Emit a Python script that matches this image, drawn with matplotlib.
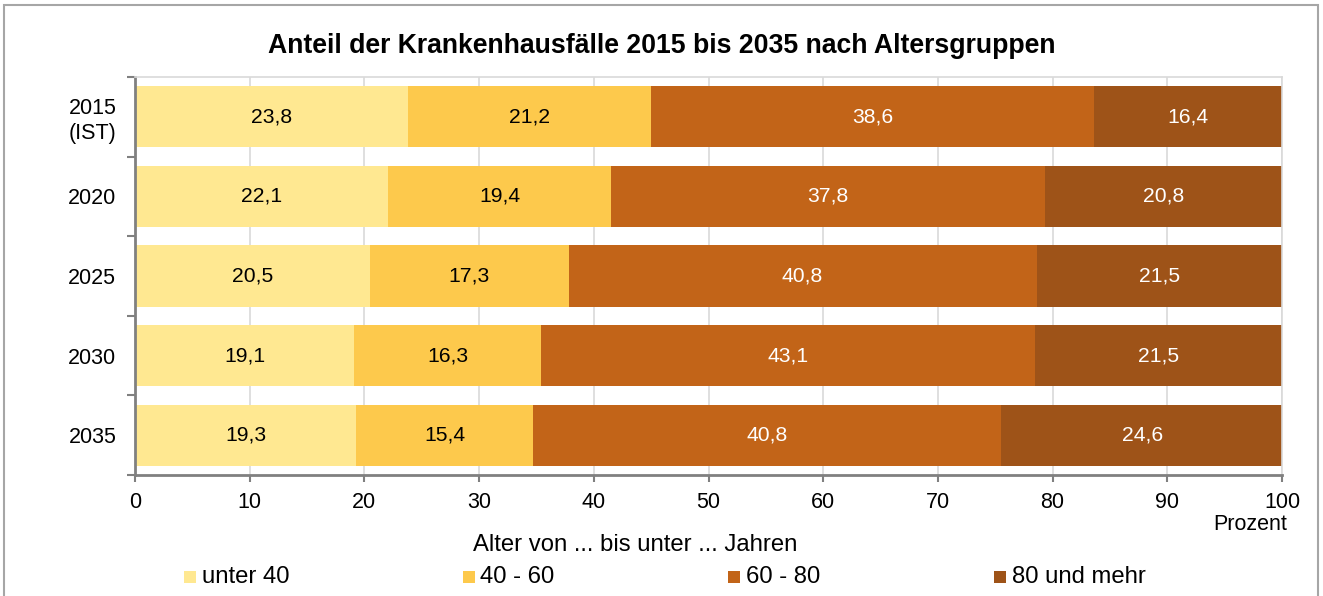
import matplotlib
matplotlib.use("Agg")
import matplotlib.pyplot as plt
from matplotlib.patches import Rectangle
import numpy as np

plt.rcParams['font.family'] = ['Liberation Sans', 'DejaVu Sans']

categories = ["2015\n(IST)", "2020", "2025", "2030", "2035"]
series_names = ["unter 40", "40 - 60", "60 - 80", "80 und mehr"]
unter40 = [23.8, 22.1, 20.5, 19.1, 19.3]
a40_60 = [21.2, 19.4, 17.3, 16.3, 15.4]
a60_80 = [38.6, 37.8, 40.8, 43.1, 40.8]
a80plus = [16.4, 20.8, 21.5, 21.5, 24.6]
xticks = [0, 10, 20, 30, 40, 50, 60, 70, 80, 90, 100]

series = [unter40, a40_60, a60_80, a80plus]
colors = ["#FFE891", "#FDC94C", "#C26418", "#9E5318"]
label_colors = ["black", "black", "white", "white"]

W, H = 1323, 596
fig = plt.figure(figsize=(W / 100, H / 100), dpi=100)

# outer frame
fig.patches.append(Rectangle((4 / W, -0.05), (1318 - 4) / W, 1 - 5 / H + 0.05,
                             transform=fig.transFigure, fill=False,
                             edgecolor="#A6A6A6", linewidth=1.5))

ax_left, ax_right = 135 / W, 1282 / W
ax_top, ax_bottom = 1 - 77 / H, 1 - 475 / H
ax = fig.add_axes([ax_left, ax_bottom, ax_right - ax_left, ax_top - ax_bottom])

y = np.arange(len(categories))
left = np.zeros(len(categories))
for vals, col, lc in zip(series, colors, label_colors):
    vals = np.array(vals)
    ax.barh(y, vals, left=left, height=0.77, color=col, edgecolor="none", zorder=2)
    for yi, l, v in zip(y, left, vals):
        ax.text(l + v / 2, yi, f"{v:.1f}".replace(".", ","), ha="center", va="center",
                color=lc, fontsize=15.2, zorder=3)
    left = left + vals

ax.set_xlim(0, 100)
ax.set_ylim(len(categories) - 0.5, -0.5)
ax.set_xticks(xticks)
ax.set_xticklabels([str(t) for t in xticks], fontsize=15.5)
ax.set_yticks(y)
ax.set_yticklabels(categories, fontsize=15.5)
ax.yaxis.set_minor_locator(matplotlib.ticker.FixedLocator(np.arange(-0.5, len(categories), 1.0)))
ax.tick_params(axis="y", which="major", length=0, pad=13.5)
ax.tick_params(axis="y", which="minor", length=6, width=1.5, color="#808080", direction="out")
ax.tick_params(axis="x", which="major", length=5, width=1.5, color="#808080", direction="out", pad=7.5)

ax.grid(axis="x", color="#D9D9D9", linewidth=1.2, zorder=0)
ax.set_axisbelow(True)
for s in ["top", "right"]:
    ax.spines[s].set_color("#D9D9D9")
    ax.spines[s].set_linewidth(1.2)
for s in ["left", "bottom"]:
    ax.spines[s].set_color("#808080")
    ax.spines[s].set_linewidth(2)

fig.text(662 / W, 1 - 46 / H, "Anteil der Krankenhausfälle 2015 bis 2035 nach Altersgruppen",
         ha="center", va="center", fontsize=19.2, fontweight="bold")
fig.text(1287 / W, 1 - 525 / H, "Prozent", ha="right", va="center", fontsize=15.5)
fig.text(635 / W, 1 - 545 / H, "Alter von ... bis unter ... Jahren", ha="center", va="center", fontsize=17.2)

# legend
sq_x = [184, 463, 728, 994]
txt_x = [202, 480, 746, 1012]
sq = 12
for name, col, sx, tx in zip(series_names, colors, sq_x, txt_x):
    fig.patches.append(Rectangle((sx / W, 1 - (577 + sq / 2) / H), sq / W, sq / H,
                                 transform=fig.transFigure, facecolor=col, edgecolor="none"))
    fig.text(tx / W, 1 - 577 / H, name, ha="left", va="center", fontsize=17.2)

fig.savefig("out.png", dpi=100)
